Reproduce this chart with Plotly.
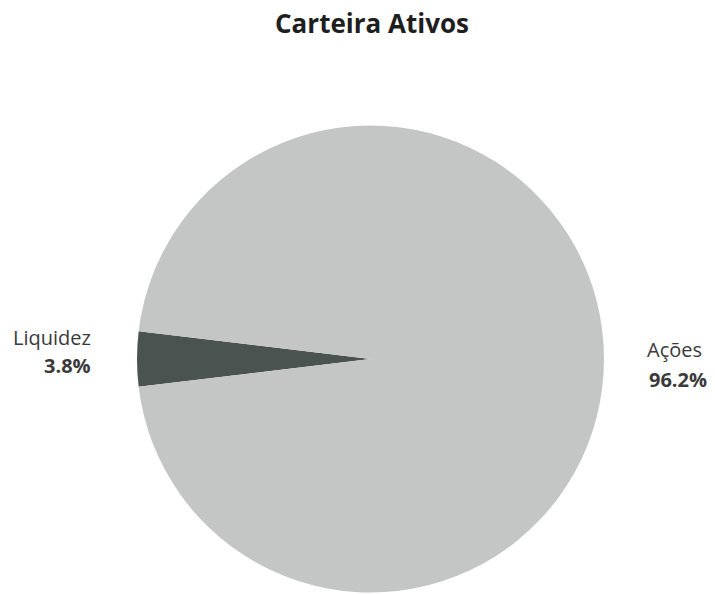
import plotly.graph_objects as go

labels = ["Liquidez", "Ações"]
values = [3.8, 96.2]
pct_text = ["3.8%", "96.2%"]
colors = ["#4b5351", "#c4c6c5"]

W, H = 715, 595
fig = go.Figure(go.Pie(
    labels=labels, values=values, sort=False, direction="clockwise",
    rotation=270 - values[0] / 100 * 360 / 2,
    marker=dict(colors=colors, line=dict(width=0)),
    textinfo="none", hoverinfo="label+percent", showlegend=False,
    domain=dict(x=[137 / W, 604 / W], y=[1 - 593 / H, 1 - 125 / H]),
))

font = "Open Sans, Liberation Sans, sans-serif"
ann = [
    dict(x=93 / W, y=1 - 337 / H, text=labels[0], xanchor="right"),
    dict(x=93 / W, y=1 - 365 / H, text="<b>" + pct_text[0] + "</b>", xanchor="right"),
    dict(x=704 / W, y=1 - 349 / H, text=labels[1], xanchor="right"),
    dict(x=709 / W, y=1 - 380 / H, text="<b>" + pct_text[1] + "</b>", xanchor="right"),
]
for a in ann:
    a.update(xref="paper", yref="paper", yanchor="middle", showarrow=False,
             font=dict(family=font, size=20, color="#3a3a3a"))

fig.update_layout(
    width=W, height=H, margin=dict(l=0, r=0, t=0, b=0),
    paper_bgcolor="white", plot_bgcolor="white",
    title=dict(text="<b>Carteira Ativos</b>", x=372 / W, xanchor="center",
               y=1 - 24 / H, yanchor="middle",
               font=dict(family=font, size=26, color="#1e1e1e")),
    annotations=ann,
)
fig.write_html("out.html")
